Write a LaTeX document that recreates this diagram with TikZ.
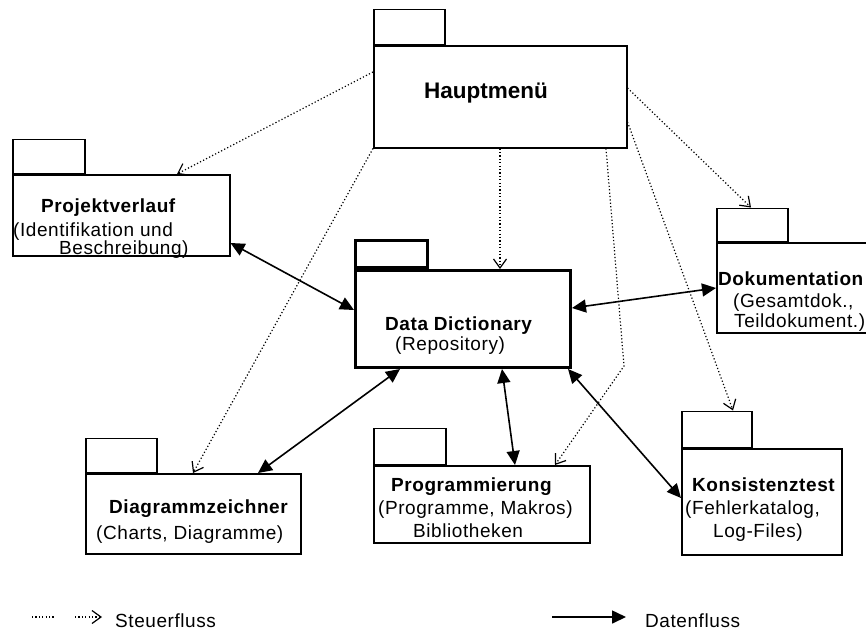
\documentclass[tikz,border=0pt]{standalone}
\usepackage{fontspec}
\setmainfont{Liberation Sans}[LetterSpace=3]
\newfontfamily\headfont{Liberation Sans}
\usetikzlibrary{arrows.meta,calc}

\tikzset{
  pkgbody/.style={draw, line width=1.5pt, inner sep=0pt, anchor=north west},
  pkgtab/.style={draw, line width=1.5pt, inner sep=0pt, anchor=south west},
  mainpkg/.style={line width=3pt},
  title/.style={font=\fontsize{19}{19}\selectfont\bfseries, inner sep=0pt, anchor=base west},
  sub/.style={font=\fontsize{19}{19}\selectfont, inner sep=0pt, anchor=base west},
  control/.style={line width=1.2pt, dash pattern=on 1.2pt off 2.2pt,
    -{Straight Barb[length=9pt,width=13pt,line width=1.2pt]}},
  data/.style={line width=1.6pt,
    {Triangle[length=14pt,width=13pt]}-{Triangle[length=14pt,width=13pt]}},
  dataone/.style={line width=1.6pt, -{Triangle[length=14pt,width=13pt]}},
}

\begin{document}
\begin{tikzpicture}[x=1pt,y=-1pt]
\useasboundingbox (0,0) rectangle (866,630);

% ---------- packages ----------
\node[pkgbody, minimum width=253, minimum height=102] (hmBody) at (373,45) {};
\node[pkgtab, minimum width=71, minimum height=35] (hmTab) at (hmBody.north west) {};
\node[font=\headfont\fontsize{22.5}{22.5}\selectfont\bfseries, inner sep=0pt, anchor=base west] (hmTitle) at (424,98) {Hauptmenü};

\node[pkgbody, minimum width=217, minimum height=81] (pvBody) at (12,174) {};
\node[pkgtab, minimum width=72, minimum height=34] (pvTab) at (pvBody.north west) {};
\node[title] (pvTitle) at (41,212) {Projektverlauf};
\node[sub] (pvSub1) at (13,236) {(Identifikation und};
\node[sub] (pvSub2) at (59,254) {Beschreibung)};

\node[pkgbody, mainpkg, minimum width=215, minimum height=97] (ddBody) at (354,269) {};
\node[pkgtab, mainpkg, minimum width=72, minimum height=27] (ddTab) at (ddBody.north west) {};
\node[title] (ddTitle) at (385,330) {Data Dictionary};
\node[sub] (ddSub) at (395,350) {(Repository)};

\node[pkgbody, minimum width=170, minimum height=90] (dkBody) at (716,242) {};
\node[pkgtab, minimum width=71, minimum height=33] (dkTab) at (dkBody.north west) {};
\node[title] (dkTitle) at (718,285) {Dokumentation};
\node[sub] (dkSub1) at (733,307) {(Gesamtdok.,};
\node[sub] (dkSub2) at (734,327) {Teildokument.)};

\node[pkgbody, minimum width=215, minimum height=80] (dzBody) at (85,473) {};
\node[pkgtab, minimum width=71, minimum height=34] (dzTab) at (dzBody.north west) {};
\node[title] (dzTitle) at (109,513) {Diagrammzeichner};
\node[sub] (dzSub) at (96,539) {(Charts, Diagramme)};

\node[pkgbody, minimum width=216, minimum height=77] (pgBody) at (373,465) {};
\node[pkgtab, minimum width=72, minimum height=36] (pgTab) at (pgBody.north west) {};
\node[title] (pgTitle) at (391,491) {Programmierung};
\node[sub] (pgSub1) at (378,514) {(Programme, Makros)};
\node[sub] (pgSub2) at (413,537) {Bibliotheken};

\node[pkgbody, minimum width=160, minimum height=106] (ktBody) at (681,448) {};
\node[pkgtab, minimum width=70, minimum height=36] (ktTab) at (ktBody.north west) {};
\node[title] (ktTitle) at (692,491) {Konsistenztest};
\node[sub] (ktSub1) at (685,514) {(Fehlerkatalog,};
\node[sub] (ktSub2) at (713,537) {Log-Files)};

% ---------- control flow ----------
\draw[control] ($(hmBody.north west)+(0,27)$) -- ($(pvBody.north west)+(165,0)$);
\draw[control] ($(hmBody.south west)+(127,0)$) -- ($(ddBody.north west)+(146,0)$);
\draw[control] (hmBody.south west) -- ($(dzBody.north west)+(108,0)$);
\coordinate (pgBend) at (624,366);
\draw[control] ($(hmBody.south west)+(233,0)$) -- (pgBend) -- ($(pgBody.north west)+(182,0)$);
\draw[control] ($(hmBody.north east)+(0,43)$) -- ($(dkTab.north west)+(35,0)$);
\draw[control] ($(hmBody.north east)+(0,77)$) -- ($(ktTab.north west)+(52,0)$);

% ---------- data flow ----------
\draw[data] ($(pvBody.north east)+(0,69)$) -- ($(ddBody.north west)+(0,41)$);
\draw[data] ($(ddBody.north east)+(0,39)$) -- ($(dkBody.north west)+(0,46)$);
\draw[data] ($(ddBody.south west)+(46,0)$) -- ($(dzBody.north west)+(173,0)$);
\draw[data] ($(ddBody.south west)+(148,0)$) -- ($(pgBody.north west)+(142,0)$);
\draw[data] ($(ddBody.south east)+(-4,0)$) -- ($(ktBody.north west)+(0,50)$);

% ---------- legend ----------
\node[sub] (lgControl) at (115,627) {Steuerfluss};
\node[sub] (lgData) at (645,627) {Datenfluss};
\coordinate (lgC1) at (32,617);
\coordinate (lgC2) at (55,617);
\coordinate (lgC3) at (75,617);
\coordinate (lgC4) at (102,617);
\draw[line width=1.2pt, dash pattern=on 1.2pt off 2.2pt] (lgC1) -- (lgC2);
\draw[control] (lgC3) -- (lgC4);
\coordinate (lgD1) at (552,617);
\coordinate (lgD2) at (626,617);
\draw[dataone] (lgD1) -- (lgD2);
\end{tikzpicture}
\end{document}
